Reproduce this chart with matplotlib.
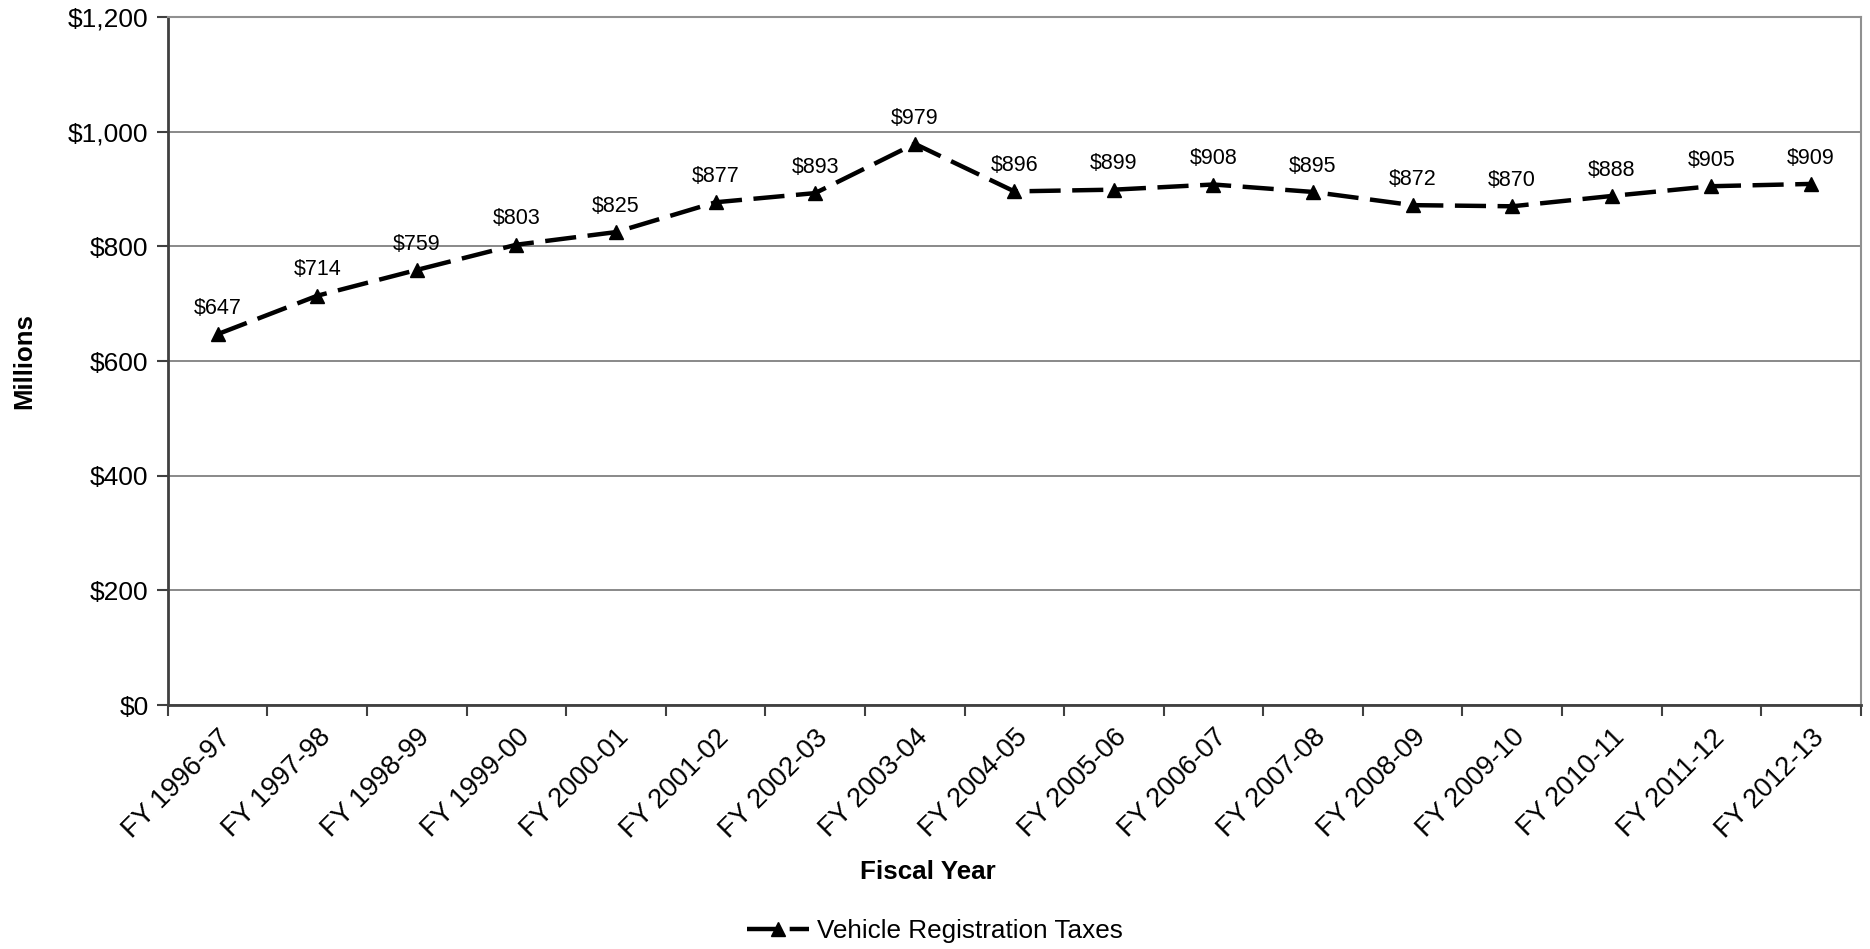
import matplotlib.pyplot as plt
from matplotlib.ticker import FuncFormatter, MultipleLocator

plt.rcParams['font.family'] = ['Liberation Sans', 'DejaVu Sans']

# Vehicle registration tax revenue, millions of dollars
years = ['FY 1996-97', 'FY 1997-98', 'FY 1998-99', 'FY 1999-00', 'FY 2000-01',
         'FY 2001-02', 'FY 2002-03', 'FY 2003-04', 'FY 2004-05', 'FY 2005-06',
         'FY 2006-07', 'FY 2007-08', 'FY 2008-09', 'FY 2009-10', 'FY 2010-11',
         'FY 2011-12', 'FY 2012-13']
taxes = [647, 714, 759, 803, 825, 877, 893, 979, 896, 899, 908, 895, 872,
         870, 888, 905, 909]

fig = plt.figure(figsize=(18.7, 9.49), dpi=100)
ax = fig.add_axes([0.0898, 0.257, 0.9052, 0.725])

x = [i + 0.5 for i in range(len(years))]
ax.plot(x, taxes, color='black', linewidth=3.2, linestyle=(0, (7, 2.6)),
        marker='^', markersize=10, label='Vehicle Registration Taxes')

for xi, v in zip(x, taxes):
    ax.annotate('$%d' % v, (xi, v), xytext=(0, 11), textcoords='offset points',
                ha='center', va='bottom', fontsize=15.5)

ax.set_xlim(0, len(years))
ax.set_ylim(0, 1200)
ax.yaxis.set_major_locator(MultipleLocator(200))
ax.yaxis.set_major_formatter(FuncFormatter(lambda v, p: '${:,.0f}'.format(v)))
ax.set_xticks(range(len(years) + 1))
ax.set_xticklabels([])
ax.set_xticks(x, minor=True)
ax.set_xticklabels(years, minor=True, rotation=45, ha='right', rotation_mode='anchor',
                   fontsize=19.5)
ax.tick_params(axis='x', which='minor', length=0, pad=14)
ax.tick_params(axis='x', which='major', length=8, width=1.5, color='#404040')
ax.tick_params(axis='y', length=8, width=1.5, color='#404040', labelsize=19, pad=6)

ax.grid(axis='y', color='#808080', linewidth=1.3)
ax.set_axisbelow(True)
for s in ['top', 'right']:
    ax.spines[s].set_color('#909090')
    ax.spines[s].set_linewidth(1.5)
for s in ['left', 'bottom']:
    ax.spines[s].set_color('#404040')
    ax.spines[s].set_linewidth(2)

ax.set_ylabel('Millions', fontsize=18.5, fontweight='bold')
ax.yaxis.set_label_coords(-0.078, 0.5)
fig.text(0.496, 0.081, 'Fiscal Year', ha='center', va='center', fontsize=18.7,
         fontweight='bold')

fig.legend(loc='center', bbox_to_anchor=(0.5, 0.019), frameon=False, fontsize=18.8,
           handlelength=2.4, handletextpad=0.3)

fig.savefig('out.png', dpi=100)
